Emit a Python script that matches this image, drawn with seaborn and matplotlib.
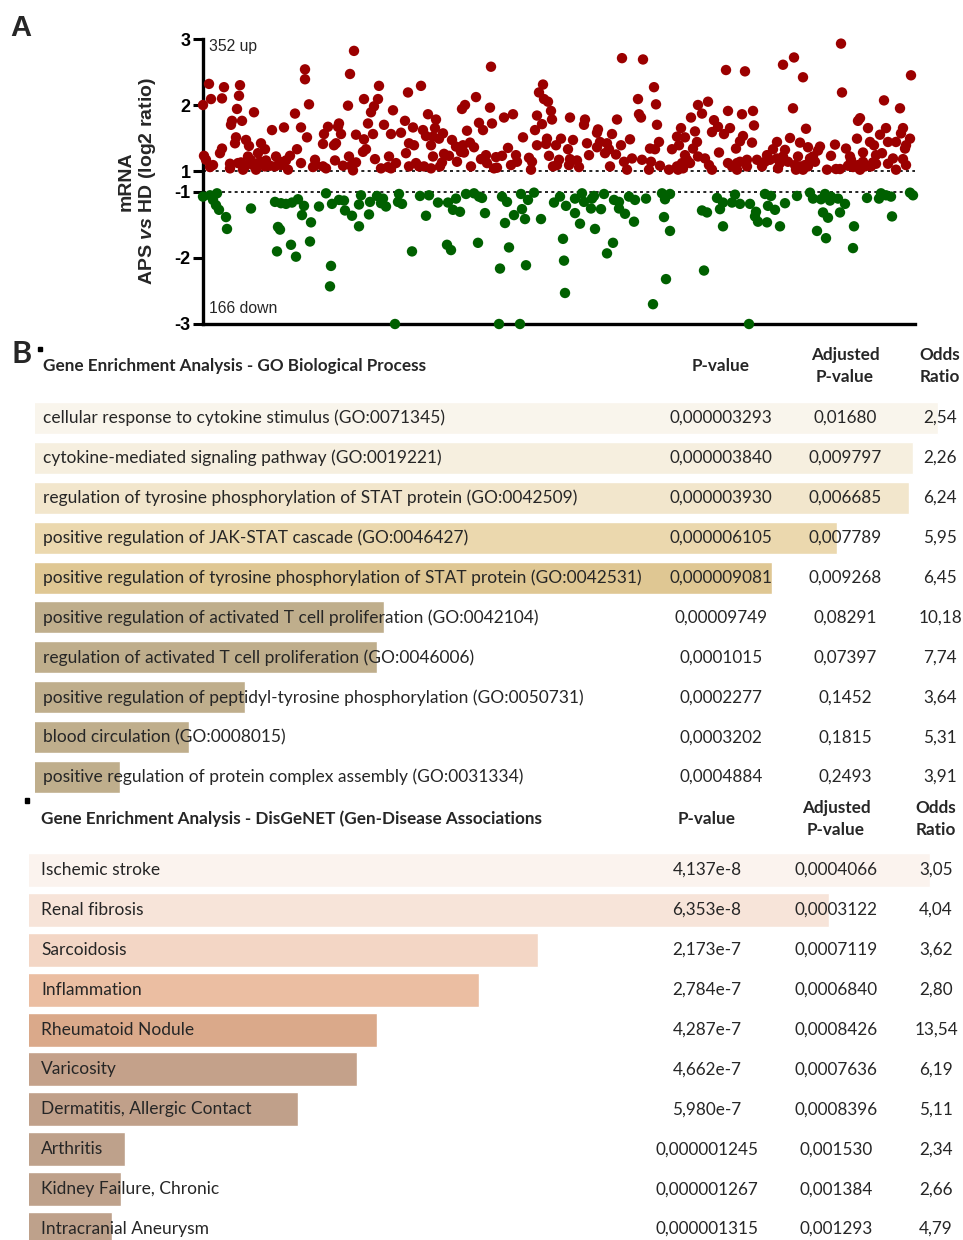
import numpy as np
import pandas as pd
import matplotlib
matplotlib.use("Agg")
import matplotlib.pyplot as plt
import matplotlib.transforms as mtransforms
from matplotlib.patches import Rectangle
import seaborn as sns

# ---------------- Panel A: differentially expressed mRNAs ----------------
# position of each gene along the gene list and its log2 ratio (APS vs HD)
up_pos = [
    0, 6, 8, 21, 19, 37, 36, 34, 29, 28,
    39, 51, 33, 32, 43, 46, 19, 17, 1, 3,
    10, 7, 27, 27, 38, 42, 45, 48, 53, 58,
    62, 55, 57, 63, 67, 73, 72, 69, 81, 92,
    98, 102, 102, 106, 104, 94, 87, 83, 78, 85,
    98, 112, 113, 110, 40, 35, 62, 50, 77,
    151, 147, 145, 161, 176, 175, 171, 168, 190, 205,
    218, 225, 233, 125, 121, 120, 136, 135, 138, 131,
    133, 132, 140, 146, 153, 161, 165, 170, 160, 163,
    153, 150, 172, 181, 188, 198, 202, 210, 206, 211,
    203, 186, 193, 178, 188, 206, 213, 216, 221, 228,
    220, 223, 228, 230, 232, 230, 120, 123, 185, 148,
    288, 340, 336, 341, 345, 348, 349, 273, 262, 259,
    287, 301, 310, 334, 339, 332, 276, 280, 289, 240,
    236, 264, 249, 253, 260, 258, 267, 271, 305, 320,
    334, 344, 343, 353, 241, 246, 239, 237, 254, 261,
    268, 278, 283, 284, 293, 299, 291, 294, 313, 314,
    308, 326, 329, 328, 346, 350,
    419, 440, 451, 435, 453, 436, 438, 454, 367, 382,
    381, 414, 395, 394, 409, 427, 358, 370, 365, 384,
    397, 394, 404, 406, 402, 418, 456, 447, 452, 469,
    386, 356, 354, 367, 374, 366, 376, 407, 413, 421,
    424, 429, 439, 448, 446, 457, 466,
    523, 542, 580, 495, 499, 505, 488, 525, 539, 550,
    551, 511, 515, 527, 521, 509, 478, 492, 494, 474,
    476, 482, 490, 540, 537, 549, 533, 516, 574, 570,
    582, 587, 482, 484, 487, 479, 480, 474, 475, 495,
    502, 506, 509, 525, 529, 534, 537, 544, 544, 534,
    554, 559, 564, 567, 562, 574, 577, 580, 575, 585,
    638, 591, 600, 639, 590, 708, 681, 697, 603, 655,
    657, 665, 683, 700, 698, 677, 654, 597, 605, 617,
    615, 632, 643, 667, 671, 685, 693, 702, 707, 703,
    660, 673, 679, 628, 647, 648, 595, 607, 612, 610,
    592, 597, 602, 605, 593, 600, 624, 633, 637, 645,
    650, 655, 660, 657, 662, 668, 673, 670, 685, 690,
    693, 700, 703,
]
up_val = [
    2.00, 2.32, 2.09, 2.27, 2.10, 2.30, 2.14, 1.94, 1.76, 1.70,
    1.76, 1.89, 1.51, 1.42, 1.47, 1.38, 1.34, 1.27, 1.23, 1.17,
    1.09, 1.06, 1.11, 1.04, 1.13, 1.07, 1.22, 1.16, 1.02, 1.42,
    1.33, 1.27, 1.14, 1.16, 1.08, 1.22, 1.07, 1.62, 1.66, 1.87,
    1.66, 2.54, 2.39, 2.01, 1.51, 1.33, 1.23, 1.16, 1.09, 1.02,
    1.12, 1.17, 1.09, 1.06, 1.02, 1.12, 1.07, 1.09, 1.14,
    2.82, 2.47, 1.99, 2.09, 2.29, 2.09, 1.98, 1.89, 1.92, 2.19,
    2.29, 1.86, 1.78, 1.67, 1.56, 1.41, 1.72, 1.67, 1.56, 1.39,
    1.42, 1.16, 1.08, 1.22, 1.55, 1.48, 1.72, 1.56, 1.29, 1.33,
    1.13, 1.01, 1.18, 1.70, 1.56, 1.58, 1.76, 1.66, 1.42, 1.39,
    1.27, 1.22, 1.12, 1.04, 1.04, 1.07, 1.12, 1.07, 1.07, 1.04,
    1.62, 1.53, 1.39, 1.52, 1.65, 1.22, 1.07, 1.04, 1.06, 1.08,
    2.58, 2.31, 2.19, 2.09, 2.05, 1.91, 1.78, 2.12, 2.00, 1.94,
    1.96, 1.81, 1.86, 1.84, 1.71, 1.62, 1.73, 1.62, 1.72, 1.57,
    1.49, 1.61, 1.47, 1.37, 1.39, 1.29, 1.43, 1.36, 1.35, 1.51,
    1.39, 1.49, 1.41, 1.39, 1.26, 1.23, 1.13, 1.07, 1.14, 1.28,
    1.07, 1.18, 1.24, 1.12, 1.21, 1.23, 1.04, 1.05, 1.24, 1.14,
    1.09, 1.20, 1.14, 1.02, 1.23, 1.07,
    2.71, 2.69, 2.27, 2.09, 2.01, 1.86, 1.81, 1.70, 1.81, 1.78,
    1.70, 1.78, 1.63, 1.58, 1.56, 1.48, 1.49, 1.47, 1.33, 1.42,
    1.44, 1.36, 1.42, 1.33, 1.27, 1.39, 1.44, 1.34, 1.33, 1.33,
    1.24, 1.17, 1.09, 1.18, 1.16, 1.09, 1.06, 1.07, 1.25, 1.14,
    1.02, 1.19, 1.17, 1.14, 1.02, 1.08, 1.02,
    2.53, 2.51, 2.61, 2.00, 1.87, 2.05, 1.81, 1.91, 1.86, 1.91,
    1.69, 1.77, 1.67, 1.65, 1.56, 1.59, 1.65, 1.60, 1.44, 1.52,
    1.39, 1.51, 1.34, 1.53, 1.45, 1.43, 1.34, 1.28, 1.44, 1.33,
    1.32, 1.50, 1.24, 1.17, 1.12, 1.12, 1.04, 1.07, 1.02, 1.22,
    1.19, 1.09, 1.02, 1.12, 1.07, 1.12, 1.14, 1.17, 1.07, 1.02,
    1.17, 1.07, 1.24, 1.17, 1.14, 1.19, 1.12, 1.22, 1.04, 1.14,
    2.93, 2.72, 2.42, 2.19, 1.95, 2.45, 2.07, 1.95, 1.64, 1.76,
    1.80, 1.65, 1.65, 1.65, 1.57, 1.55, 1.49, 1.43, 1.36, 1.37,
    1.31, 1.40, 1.34, 1.44, 1.39, 1.44, 1.44, 1.34, 1.49, 1.39,
    1.28, 1.24, 1.27, 1.23, 1.22, 1.17, 1.22, 1.19, 1.14, 1.22,
    1.09, 1.07, 1.09, 1.07, 1.02, 1.02, 1.02, 1.03, 1.03, 1.08,
    1.06, 1.09, 1.14, 1.02, 1.07, 1.07, 1.11, 1.13, 1.11, 1.19,
    1.02, 1.18, 1.09,
]
down_pos = [
    0, 7, 14, 10, 13, 16, 23, 24, 48, 72,
    78, 83, 89, 95, 101, 99, 108, 116, 75, 77,
    74, 88, 93, 107,
    123, 129, 136, 141, 142, 149, 156, 156, 158, 166,
    167, 174, 180, 183, 178, 196, 195, 199, 217, 226,
    223, 235, 209, 128, 127, 192,
    245, 253, 250, 257, 263, 271, 276, 279, 282, 299,
    304, 302, 311, 319, 322, 318, 325, 331, 338, 351,
    244, 248, 275, 306, 297, 323, 296, 317,
    357, 363, 372, 379, 381, 389, 388, 391, 372, 377,
    392, 398, 401, 411, 416, 416, 422, 426, 432, 443,
    431, 459, 462, 467, 461, 467, 360, 361, 362, 410,
    404, 463, 450,
    514, 517, 520, 529, 532, 537, 499, 504, 520, 547,
    553, 552, 555, 564, 562, 568, 565, 572, 577, 582,
    501, 546,
    594, 607, 610, 618, 622, 627, 628, 635, 642, 620,
    625, 637, 614, 623, 651, 650, 664, 676, 678, 683,
    688, 689, 707, 710,
]
down_val = [
    -1.07, -1.05, -1.02, -1.12, -1.20, -1.27, -1.38, -1.56, -1.25, -1.15,
    -1.17, -1.18, -1.16, -1.11, -1.21, -1.35, -1.46, -1.22, -1.53, -1.57,
    -1.90, -1.80, -1.98, -1.75,
    -1.02, -1.18, -1.12, -1.13, -1.28, -1.36, -1.52, -1.19, -1.05, -1.34,
    -1.15, -1.06, -1.10, -1.22, -1.17, -1.03, -1.15, -1.18, -1.06, -1.05,
    -1.36, -1.16, -1.90, -2.12, -2.43, -3.00,
    -1.16, -1.10, -1.27, -1.30, -1.03, -1.02, -1.07, -1.09, -1.32, -1.07,
    -1.15, -1.47, -1.35, -1.26, -1.41, -1.03, -1.12, -1.01, -1.41, -1.16,
    -1.80, -1.88, -1.77, -1.84, -2.16, -2.11, -3.00, -3.00,
    -1.07, -1.21, -1.10, -1.02, -1.15, -1.10, -1.25, -1.06, -1.32, -1.48,
    -1.56, -1.26, -1.03, -1.12, -1.15, -1.25, -1.33, -1.07, -1.12, -1.10,
    -1.45, -1.02, -1.11, -1.03, -1.38, -1.59, -1.71, -2.04, -2.53, -1.77,
    -1.93, -2.32, -2.70,
    -1.09, -1.26, -1.16, -1.16, -1.04, -1.18, -1.28, -1.31, -1.52, -1.18,
    -1.30, -1.37, -1.45, -1.46, -1.03, -1.06, -1.21, -1.27, -1.52, -1.17,
    -2.19, -3.00,
    -1.06, -1.01, -1.10, -1.11, -1.03, -1.13, -1.07, -1.10, -1.18, -1.31,
    -1.39, -1.31, -1.59, -1.70, -1.52, -1.85, -1.09, -1.10, -1.02, -1.05,
    -1.07, -1.37, -1.01, -1.05,
]
n_up, n_down = 352, 166
y_ticks = [-3, -2, -1, 1, 2, 3]

# ---------------- Panel B: enrichment tables ----------------
go_terms = [
    "cellular response to cytokine stimulus (GO:0071345)",
    "cytokine-mediated signaling pathway (GO:0019221)",
    "regulation of tyrosine phosphorylation of STAT protein (GO:0042509)",
    "positive regulation of JAK-STAT cascade (GO:0046427)",
    "positive regulation of tyrosine phosphorylation of STAT protein (GO:0042531)",
    "positive regulation of activated T cell proliferation (GO:0042104)",
    "regulation of activated T cell proliferation (GO:0046006)",
    "positive regulation of peptidyl-tyrosine phosphorylation (GO:0050731)",
    "blood circulation (GO:0008015)",
    "positive regulation of protein complex assembly (GO:0031334)",
]
go_pval = ["0,000003293", "0,000003840", "0,000003930", "0,000006105", "0,000009081",
           "0,00009749", "0,0001015", "0,0002277", "0,0003202", "0,0004884"]
go_adj = ["0,01680", "0,009797", "0,006685", "0,007789", "0,009268",
          "0,08291", "0,07397", "0,1452", "0,1815", "0,2493"]
go_odds = ["2,54", "2,26", "6,24", "5,95", "6,45", "10,18", "7,74", "3,64", "5,31", "3,91"]
go_colors = ["#f9f5ec", "#f6efdf", "#f2e6cc", "#ebd8ae", "#dfc793",
             "#bfae8c", "#bfae8c", "#bfae8c", "#bfae8c", "#bfae8c"]

dis_terms = ["Ischemic stroke", "Renal fibrosis", "Sarcoidosis", "Inflammation",
             "Rheumatoid Nodule", "Varicosity", "Dermatitis, Allergic Contact",
             "Arthritis", "Kidney Failure, Chronic", "Intracranial Aneurysm"]
dis_pval = ["4,137e-8", "6,353e-8", "2,173e-7", "2,784e-7", "4,287e-7",
            "4,662e-7", "5,980e-7", "0,000001245", "0,000001267", "0,000001315"]
dis_adj = ["0,0004066", "0,0003122", "0,0007119", "0,0006840", "0,0008426",
           "0,0007636", "0,0008396", "0,001530", "0,001384", "0,001293"]
dis_odds = ["3,05", "4,04", "3,62", "2,80", "13,54", "6,19", "5,11", "2,34", "2,66", "4,79"]
dis_colors = ["#fbf3ee", "#f7e4d9", "#f3d6c5", "#ebbea2", "#daa98a",
              "#c4a18a", "#c0a08a", "#bea18b", "#bea18b", "#bea18b"]

# ---------------- styling ----------------
sns.set_theme(style="white")
plt.rcParams["font.family"] = ["Liberation Sans", "DejaVu Sans"]
plt.rcParams["axes.unicode_minus"] = False
plt.rcParams["mathtext.fontset"] = "custom"
plt.rcParams["mathtext.it"] = "Liberation Sans:italic:bold"
plt.rcParams["mathtext.rm"] = "Liberation Sans:bold"

W, H = 963, 1240
fig = plt.figure(figsize=(W / 100, H / 100), dpi=100)
fig.patch.set_facecolor("white")


def fx(px):
    return px / W


def fy(py):
    return 1 - py / H


# broken y scale: the band between -1 and 1 is squeezed into a small gap
GAP = 0.159


def fwd(y):
    y = np.asarray(y, dtype=float)
    return np.where(y >= 1, y - 1 + GAP, np.where(y <= -1, y + 1 - GAP, y * GAP))


def inv(t):
    t = np.asarray(t, dtype=float)
    return np.where(t >= GAP, t + 1 - GAP, np.where(t <= -GAP, t - 1 + GAP, t / GAP))


axA = fig.add_axes([fx(203), fy(324), fx(712), 285 / H])
df = pd.DataFrame({
    "pos": up_pos + down_pos,
    "log2": up_val + down_val,
    "direction": ["up"] * len(up_pos) + ["down"] * len(down_pos),
})
axA.set_yscale("function", functions=(fwd, inv))
sns.scatterplot(data=df, x="pos", y="log2", hue="direction",
                palette={"up": "#9b0000", "down": "#006000"},
                s=56, linewidth=0, legend=False, ax=axA, clip_on=False, zorder=3)
axA.set_xlim(0, 712)
axA.set_ylim(-3, 3)
for yl in (1, -1):
    axA.axhline(yl, color="black", lw=1.2, ls=(0, (1.8, 2.0)), zorder=2)
axA.set_yticks(y_ticks)
axA.set_yticklabels([str(t) for t in y_ticks], fontweight="bold", fontsize=13)
axA.set_xticks([])
axA.set_xlabel("")
axA.set_ylabel("mRNA\nAPS $\\mathit{vs}$ HD (log2 ratio)", fontweight="bold",
               fontsize=14, linespacing=1.15, labelpad=12)
axA.tick_params(axis="y", direction="out", length=7, width=2.2, pad=2, colors="black", left=True)
for side in ("top", "right"):
    axA.spines[side].set_visible(False)
for side in ("left", "bottom"):
    axA.spines[side].set_linewidth(2.4)
    axA.spines[side].set_color("black")
axA.text(6, 2.89, f"{n_up} up", fontsize=11.3, va="center", ha="left")
axA.text(6, -2.77, f"{n_down} down", fontsize=11.3, va="center", ha="left")

fig.text(fx(10), fy(28), "A", fontsize=21, fontweight="bold", va="center", ha="left")


# ---------------- enrichment tables ----------------
TFONT = ["Lato", "DejaVu Sans"]


def enrichment_table(ax, terms, pvals, adj, odds, colors, lo, k, bar_w,
                     x_label, x_p, x_adj, x_odds, header, y_head):
    p_num = [float(p.replace(",", ".")) for p in pvals]
    score = [-np.log10(p) for p in p_num]
    tb = pd.DataFrame({"term": terms, "score": score})
    sns.barplot(data=tb, x="score", y="term", hue="term", palette=colors,
                orient="h", width=bar_w, legend=False, ax=ax, saturation=1)
    width_px = ax.get_position().width * W
    ax.set_xlim(lo, lo + width_px / k)
    ax.set_ylim(len(terms) - 0.5, -0.5)
    ax.axis("off")
    tr = mtransforms.blended_transform_factory(fig.transFigure, ax.transData)
    for i in range(len(terms)):
        ax.text(fx(x_label), i, terms[i], transform=tr, ha="left", va="center",
                fontsize=12.5, family=TFONT, clip_on=False)
        ax.text(fx(x_p), i, pvals[i], transform=tr, ha="center", va="center",
                fontsize=12.3, family=TFONT, clip_on=False)
        ax.text(fx(x_adj), i, adj[i], transform=tr, ha="center", va="center",
                fontsize=12.3, family=TFONT, clip_on=False)
        ax.text(fx(x_odds), i, odds[i], transform=tr, ha="center", va="center",
                fontsize=12.3, family=TFONT, clip_on=False)
    hk = dict(fontsize=12.3, family=TFONT, fontweight="bold", va="center")
    fig.text(fx(x_label), fy(y_head), header, ha="left", **hk)
    fig.text(fx(x_p), fy(y_head), "P-value", ha="center", **hk)
    fig.text(fx(x_adj), fy(y_head), "Adjusted\nP-value", ha="center", linespacing=1.45, **hk)
    fig.text(fx(x_odds), fy(y_head), "Odds\nRatio", ha="center", linespacing=1.45, **hk)


axGO = fig.add_axes([fx(35), fy(797), 1 - fx(35), 399 / H])
enrichment_table(axGO, go_terms, go_pval, go_adj, go_odds, go_colors,
                 3.0856, 376.7, 0.8, 43, 721, 845, 940,
                 "Gene Enrichment Analysis - GO Biological Process", 366)

axDis = fig.add_axes([fx(29), fy(1249), 1 - fx(29), 399 / H])
enrichment_table(axDis, dis_terms, dis_pval, dis_adj, dis_odds, dis_colors,
                 5.7286, 544.5, 0.85, 41, 707, 836, 936,
                 "Gene Enrichment Analysis - DisGeNET (Gen-Disease Associations", 819)

fig.text(fx(11), fy(354), "B", fontsize=22, fontweight="bold", va="center", ha="left",
         family=TFONT)
fig.patches.append(Rectangle((fx(38), fy(351)), fx(4), 4 / H, transform=fig.transFigure,
                             color="black"))
fig.patches.append(Rectangle((fx(25), fy(803)), fx(4), 5 / H, transform=fig.transFigure,
                             color="black"))

fig.savefig("out.png", dpi=100, facecolor="white")
